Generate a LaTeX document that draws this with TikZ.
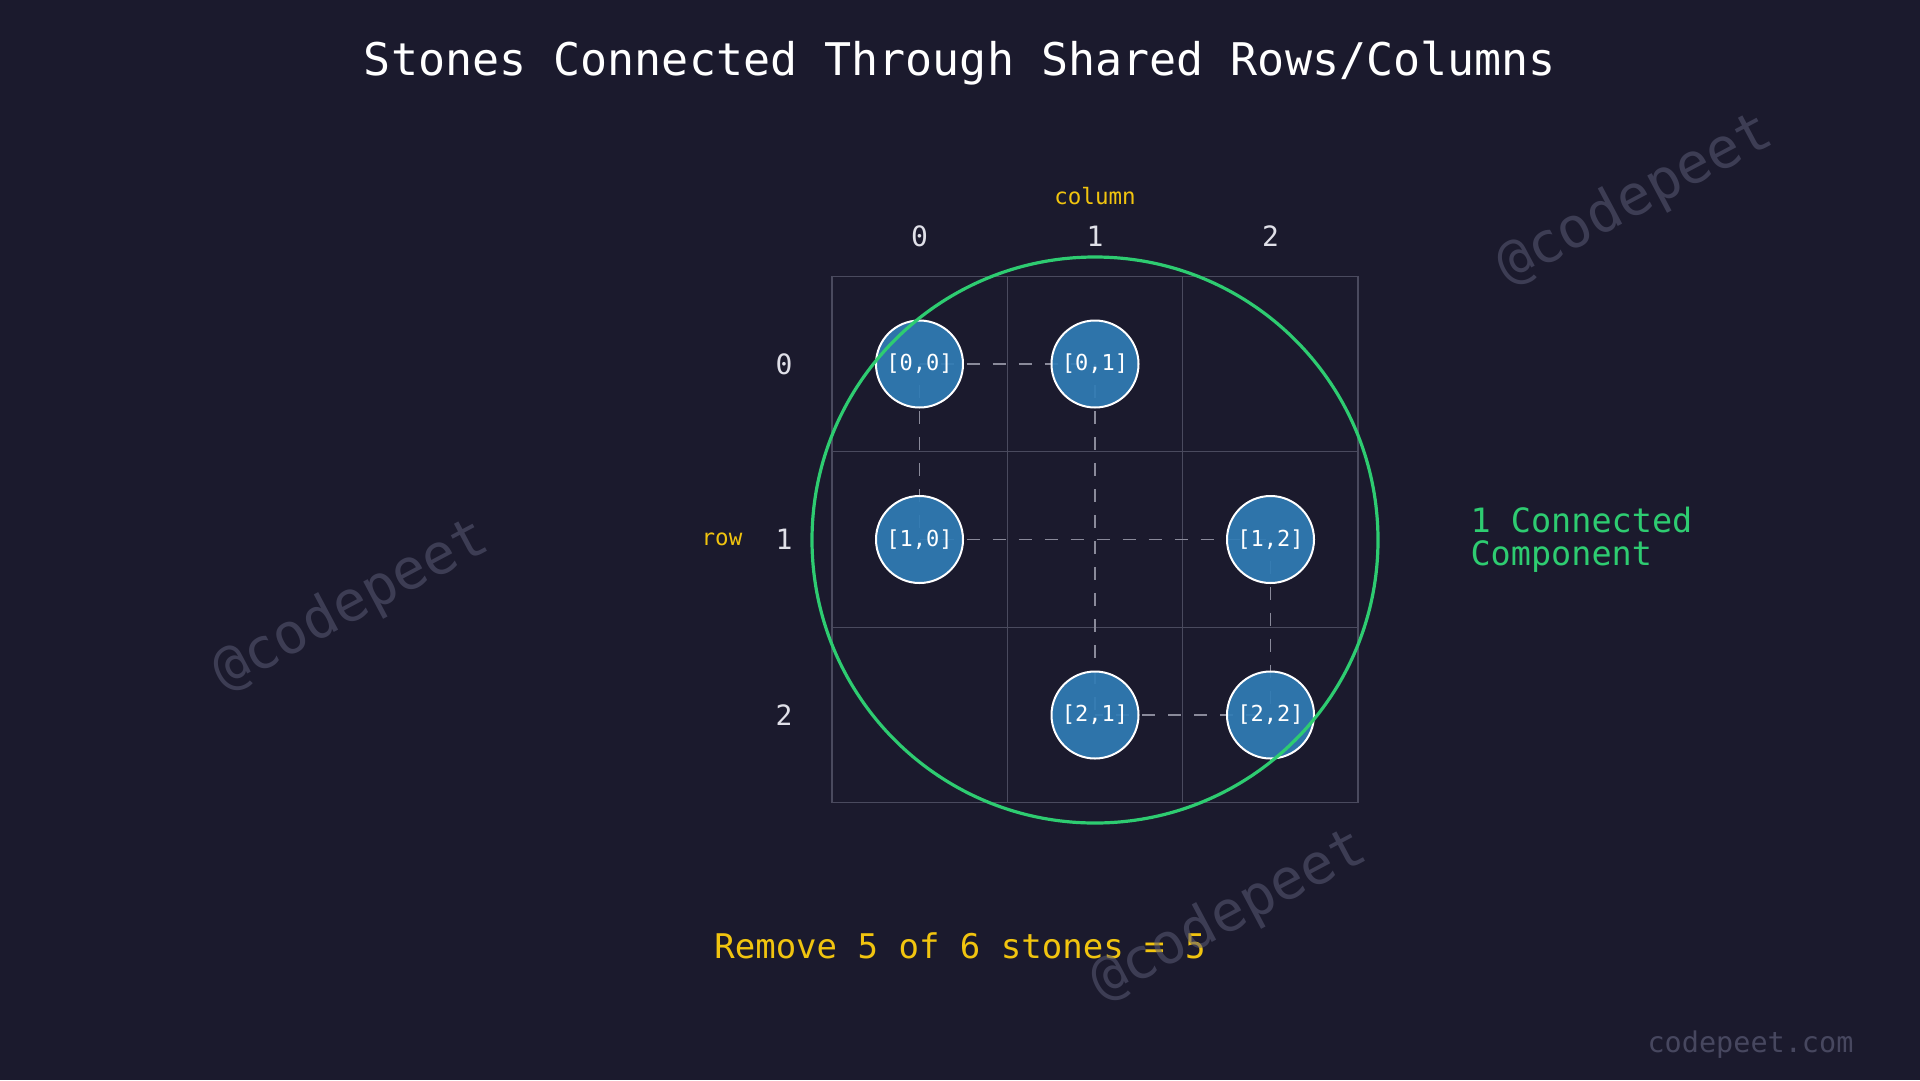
\documentclass[tikz,border=0pt]{standalone}
\usepackage{fontspec}
\setmainfont{DejaVu Sans Mono}
\setmonofont{DejaVu Sans Mono}
\definecolor{bg}{HTML}{1B1A2D}
\definecolor{gridc}{HTML}{4A4A5E}
\definecolor{stone}{HTML}{307BB4}
\definecolor{greenc}{HTML}{2ECC71}
\definecolor{yel}{HTML}{F1C40F}
\definecolor{dashc}{HTML}{8A8A9A}
\definecolor{wm}{HTML}{5A5B75}
\definecolor{numc}{HTML}{E0E0E8}
\newcommand{\fs}[1]{\fontsize{#1}{#1}\selectfont}
\tikzset{
  stonenode/.style={circle, minimum size=87pt, inner sep=0pt, fill=stone, fill opacity=0.93, text opacity=1, draw=white, draw opacity=1, line width=2pt, text=white, font=\fs{22}},
  link/.style={draw=dashc, line width=1.6pt, dash pattern=on 13pt off 13pt, dash phase=5pt},
  gridline/.style={draw=gridc, line width=1.3pt},
  numlab/.style={text=numc, font=\fs{28}},
  wmark/.style={text=wm, opacity=0.55, font=\fs{56}, rotate=28},
}
\begin{document}
\begin{tikzpicture}[x=1pt,y=-1pt]
\useasboundingbox[fill=bg] (0,0) rectangle (1920,1080);
% title
\node[text=white, font=\fs{45}] (title) at (960,63) {Stones Connected Through Shared Rows/Columns};
% grid
\draw[gridline] (832,276.5) rectangle (1358,802.5);
\draw[gridline] (1007.3,276.5) -- (1007.3,802.5);
\draw[gridline] (1182.7,276.5) -- (1182.7,802.5);
\draw[gridline] (832,451.8) -- (1358,451.8);
\draw[gridline] (832,627.2) -- (1358,627.2);
% axis labels
\node[text=yel, font=\fs{22.5}] (collab) at (1095,196) {column};
\node[numlab] (c0) at (919.5,236) {0};
\node[numlab] (c1) at (1095,236) {1};
\node[numlab] (c2) at (1270.5,236) {2};
\node[text=yel, font=\fs{22.5}] (rowlab) at (722,539.5) {row};
\node[numlab] (r0) at (784,364) {0};
\node[numlab] (r1) at (784,539.5) {1};
\node[numlab] (r2) at (784,715) {2};
% connectors (behind stones)
\coordinate (p00) at (919.5,364);
\coordinate (p01) at (1095,364);
\coordinate (p10) at (919.5,539.5);
\coordinate (p12) at (1270.5,539.5);
\coordinate (p21) at (1095,715);
\coordinate (p22) at (1270.5,715);
\draw[link] (p00) -- (p01);
\draw[link] (p00) -- (p10);
\draw[link] (p01) -- (p21);
\draw[link] (p10) -- (p12);
\draw[link] (p12) -- (p22);
\draw[link] (p21) -- (p22);
% stones
\node[stonenode] (s00) at (p00) {[0,0]};
\node[stonenode] (s01) at (p01) {[0,1]};
\node[stonenode] (s10) at (p10) {[1,0]};
\node[stonenode] (s12) at (p12) {[1,2]};
\node[stonenode] (s21) at (p21) {[2,1]};
\node[stonenode] (s22) at (p22) {[2,2]};
% component circle
\node[circle, draw=greenc, line width=3.2pt, minimum size=566pt, inner sep=0pt] (comp) at (1095,540) {};
\node[text=greenc, font=\fs{33.5}, anchor=west, align=left] (complab) at (1467,540) {1 Connected\\[-0.5pt]Component};
% result
\node[text=yel, font=\fs{34}] (result) at (960,946) {Remove 5 of 6 stones = 5};
% footer
\node[text=wm, opacity=0.7, font=\fs{28.5}, anchor=east] (site) at (1857,1045) {codepeet.com};
% watermarks
\node[wmark] (wm1) at (351,606) {@codepeet};
\node[wmark] (wm2) at (1635,200) {@codepeet};
\node[wmark] (wm3) at (1229,916) {@codepeet};
\end{tikzpicture}
\end{document}
